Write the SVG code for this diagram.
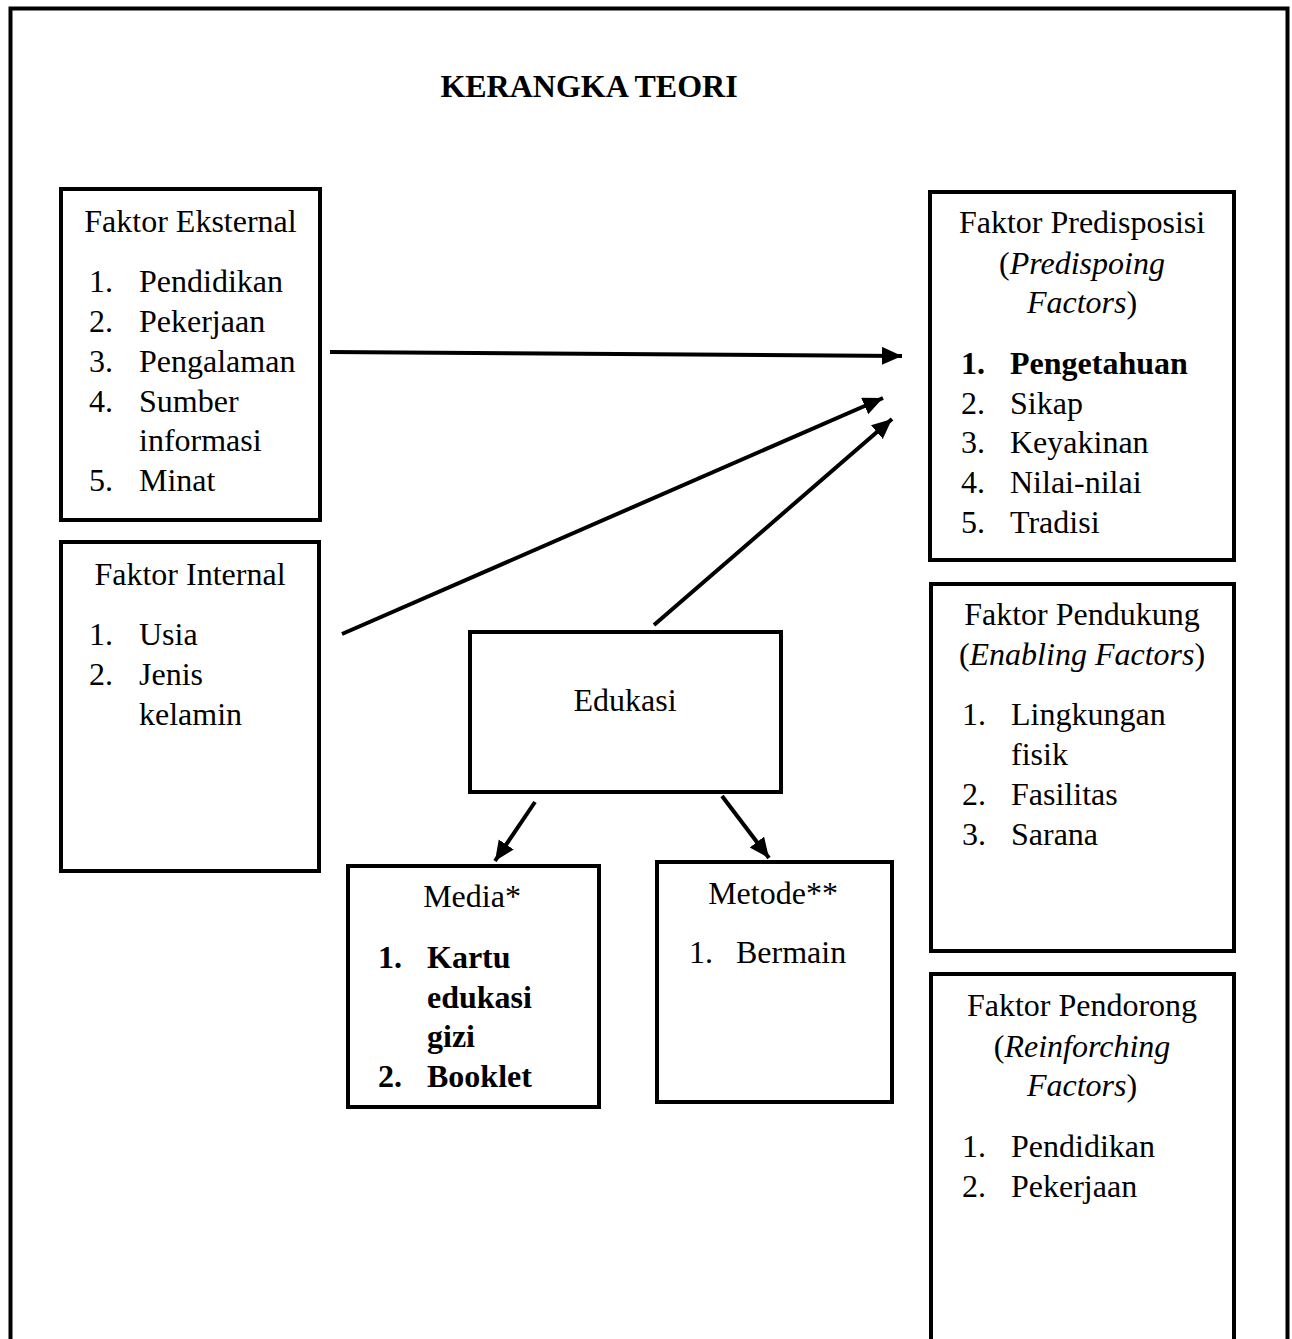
<svg xmlns="http://www.w3.org/2000/svg" width="1292" height="1339" viewBox="0 0 1292 1339">
<defs>
<style>
text{font-family:"Liberation Serif","Times New Roman",serif;font-size:32px;fill:#000}
.c{text-anchor:middle}
.b{font-weight:bold}
.i{font-style:italic}
.box{fill:#fff;stroke:#000;stroke-width:4}
.ln{stroke:#000;stroke-width:4;fill:none}
</style>
<marker id="ah" markerUnits="userSpaceOnUse" markerWidth="22" markerHeight="20" refX="20" refY="9" orient="auto">
<path d="M0,0 L20,9 L0,18 z" fill="#000"/>
</marker>
</defs>
<rect x="0" y="0" width="1292" height="1339" fill="#fff"/>
<rect x="10.5" y="8.5" width="1277" height="1350" fill="none" stroke="#000" stroke-width="4"/>
<text class="b" x="589" y="97" text-anchor="middle">KERANGKA TEORI</text>

<g id="eksternal">
<rect class="box" x="61" y="189" width="259" height="331"/>
<text class="c" x="190.5" y="232">Faktor Eksternal</text>
<text x="89" y="292">1.</text><text x="139" y="292">Pendidikan</text>
<text x="89" y="332">2.</text><text x="139" y="332">Pekerjaan</text>
<text x="89" y="372">3.</text><text x="139" y="372">Pengalaman</text>
<text x="89" y="412">4.</text><text x="139" y="412">Sumber</text>
<text x="139" y="451">informasi</text>
<text x="89" y="491">5.</text><text x="139" y="491">Minat</text>
</g>

<g id="internal">
<rect class="box" x="61" y="542" width="258" height="329"/>
<text class="c" x="190" y="585">Faktor Internal</text>
<text x="89" y="645">1.</text><text x="139" y="645">Usia</text>
<text x="89" y="685">2.</text><text x="139" y="685">Jenis</text>
<text x="139" y="725">kelamin</text>
</g>

<g id="predisposisi">
<rect class="box" x="930" y="192" width="304" height="368"/>
<text class="c" x="1082" y="233">Faktor Predisposisi</text>
<text class="c" x="1082" y="274">(<tspan class="i">Predispoing</tspan></text>
<text class="c" x="1082" y="313"><tspan class="i">Factors</tspan>)</text>
<text class="b" x="961" y="374">1.</text><text class="b" x="1010" y="374">Pengetahuan</text>
<text x="961" y="414">2.</text><text x="1010" y="414">Sikap</text>
<text x="961" y="453">3.</text><text x="1010" y="453">Keyakinan</text>
<text x="961" y="493">4.</text><text x="1010" y="493">Nilai-nilai</text>
<text x="961" y="533">5.</text><text x="1010" y="533">Tradisi</text>
</g>

<g id="pendukung">
<rect class="box" x="931" y="584" width="303" height="367"/>
<text class="c" x="1082" y="625">Faktor Pendukung</text>
<text class="c" x="1082" y="665">(<tspan class="i">Enabling Factors</tspan>)</text>
<text x="962" y="725">1.</text><text x="1011" y="725">Lingkungan</text>
<text x="1011" y="765">fisik</text>
<text x="962" y="805">2.</text><text x="1011" y="805">Fasilitas</text>
<text x="962" y="845">3.</text><text x="1011" y="845">Sarana</text>
</g>

<g id="pendorong">
<rect class="box" x="931" y="974" width="303" height="400"/>
<text class="c" x="1082" y="1016">Faktor Pendorong</text>
<text class="c" x="1082" y="1057">(<tspan class="i">Reinforching</tspan></text>
<text class="c" x="1082" y="1096"><tspan class="i">Factors</tspan>)</text>
<text x="962" y="1157">1.</text><text x="1011" y="1157">Pendidikan</text>
<text x="962" y="1197">2.</text><text x="1011" y="1197">Pekerjaan</text>
</g>

<g id="edukasi">
<rect class="box" x="470" y="632" width="311" height="160"/>
<text class="c" x="625" y="711">Edukasi</text>
</g>

<g id="media">
<rect class="box" x="348" y="866" width="251" height="241"/>
<text class="c" x="472" y="907">Media*</text>
<text class="b" x="378" y="968">1.</text><text class="b" x="427" y="968">Kartu</text>
<text class="b" x="427" y="1008">edukasi</text>
<text class="b" x="427" y="1047">gizi</text>
<text class="b" x="378" y="1087">2.</text><text class="b" x="427" y="1087">Booklet</text>
</g>

<g id="metode">
<rect class="box" x="657" y="862" width="235" height="240"/>
<text class="c" x="773" y="904">Metode**</text>
<text x="689" y="963">1.</text><text x="736" y="963">Bermain</text>
</g>

<g id="connectors">
<line class="ln" x1="330" y1="352" x2="902" y2="356" marker-end="url(#ah)"/>
<line class="ln" x1="342" y1="634" x2="883" y2="398" marker-end="url(#ah)"/>
<line class="ln" x1="654" y1="625" x2="892" y2="419" marker-end="url(#ah)"/>
<line class="ln" x1="535" y1="802" x2="495" y2="861" marker-end="url(#ah)"/>
<line class="ln" x1="722" y1="796" x2="769" y2="858" marker-end="url(#ah)"/>
</g>
</svg>
